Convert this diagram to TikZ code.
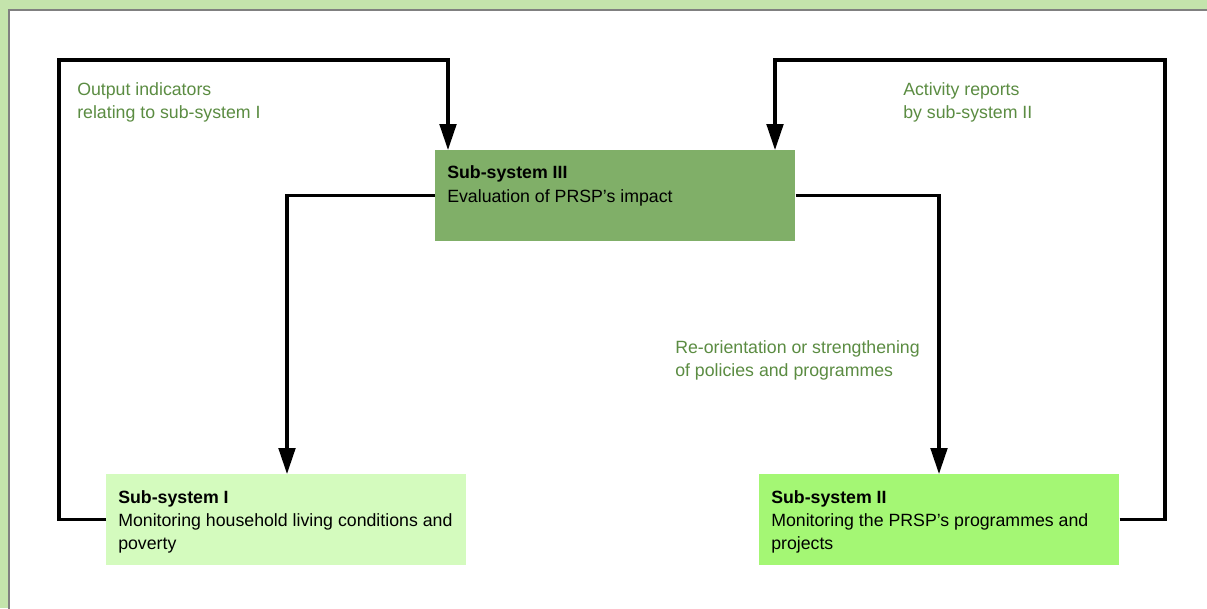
\documentclass[tikz,border=0pt]{standalone}
\usepackage{fontspec}
\setmainfont{Liberation Sans}
\usetikzlibrary{arrows.meta}
\definecolor{framegreen}{HTML}{C4E4AC}
\definecolor{framegray}{HTML}{808080}
\definecolor{boxthree}{HTML}{80AF68}
\definecolor{boxone}{HTML}{D4FBBE}
\definecolor{boxtwo}{HTML}{A4F774}
\definecolor{labelgreen}{HTML}{5B8C42}
\newcommand{\diafont}{\fontsize{13.3}{17}\selectfont}
\tikzset{
  sysbox/.style={rectangle, draw=none, minimum width=270pt, minimum height=68pt, inner sep=0pt},
  boxtext/.style={anchor=base west, inner sep=0pt, font=\diafont, text=black},
  boldtext/.style={boxtext, font=\diafont\bfseries},
  labeltext/.style={anchor=base west, inner sep=0pt, font=\diafont, text=labelgreen},
  conn/.style={line width=2.3pt, draw=black, line join=miter},
  arr/.style={conn, -{Triangle[length=19.5pt, width=12.5pt]}}
}
\begin{document}
\begin{tikzpicture}[x=0.75pt,y=-0.75pt]
\useasboundingbox (0,0) rectangle (1207,608);
\begin{scope}
\clip (0,0) rectangle (1207,608);
\fill[framegreen] (0,0) rectangle (1207,608);
\filldraw[fill=white, draw=framegray, line width=1.5pt] (9,10) rectangle (1220,620);
\end{scope}
% boxes
\node[sysbox, fill=boxthree, anchor=north west] (b3) at (435,150) {};
\node[sysbox, fill=boxone, anchor=north west] (b1) at (106,474) {};
\node[sysbox, fill=boxtwo, anchor=north west] (b2) at (759,474) {};
% box texts
\node[boldtext] (t3a) at (447,178) {Sub-system III};
\node[boxtext] (t3b) at (447,202) {Evaluation of PRSP’s impact};
\node[boldtext] (t1a) at (118,503) {Sub-system I};
\node[boxtext] (t1b) at (118,526) {Monitoring household living conditions and};
\node[boxtext] (t1c) at (118,549) {poverty};
\node[boldtext] (t2a) at (771,503) {Sub-system II};
\node[boxtext] (t2b) at (771,526) {Monitoring the PRSP’s programmes and};
\node[boxtext] (t2c) at (771,549) {projects};
% labels
\node[labeltext] (la1) at (77,95) {Output indicators};
\node[labeltext] (la2) at (77,118) {relating to sub-system I};
\node[labeltext] (lb1) at (903,95) {Activity reports};
\node[labeltext] (lb2) at (903,118) {by sub-system II};
\node[labeltext] (lc1) at (675,353) {Re-orientation or strengthening};
\node[labeltext] (lc2) at (675,376) {of policies and programmes};
% connector coordinates
\coordinate (lt) at (59,60);
\coordinate (rt) at (1165,60);
\coordinate (inL) at (448,150);
\coordinate (inR) at (775,150);
\coordinate (dnL) at (287,474);
\coordinate (dnR) at (939,474);
% connectors
\draw[arr] (b1.west) -- (b1.west -| lt) -- (lt) -- (lt -| inL) -- (inL);
\draw[arr] (b2.east) -- (b2.east -| rt) -- (rt) -- (rt -| inR) -- (inR);
\draw[arr] (b3.west) -- (b3.west -| dnL) -- (dnL);
\draw[arr] (b3.east) -- (b3.east -| dnR) -- (dnR);
\end{tikzpicture}
\end{document}
